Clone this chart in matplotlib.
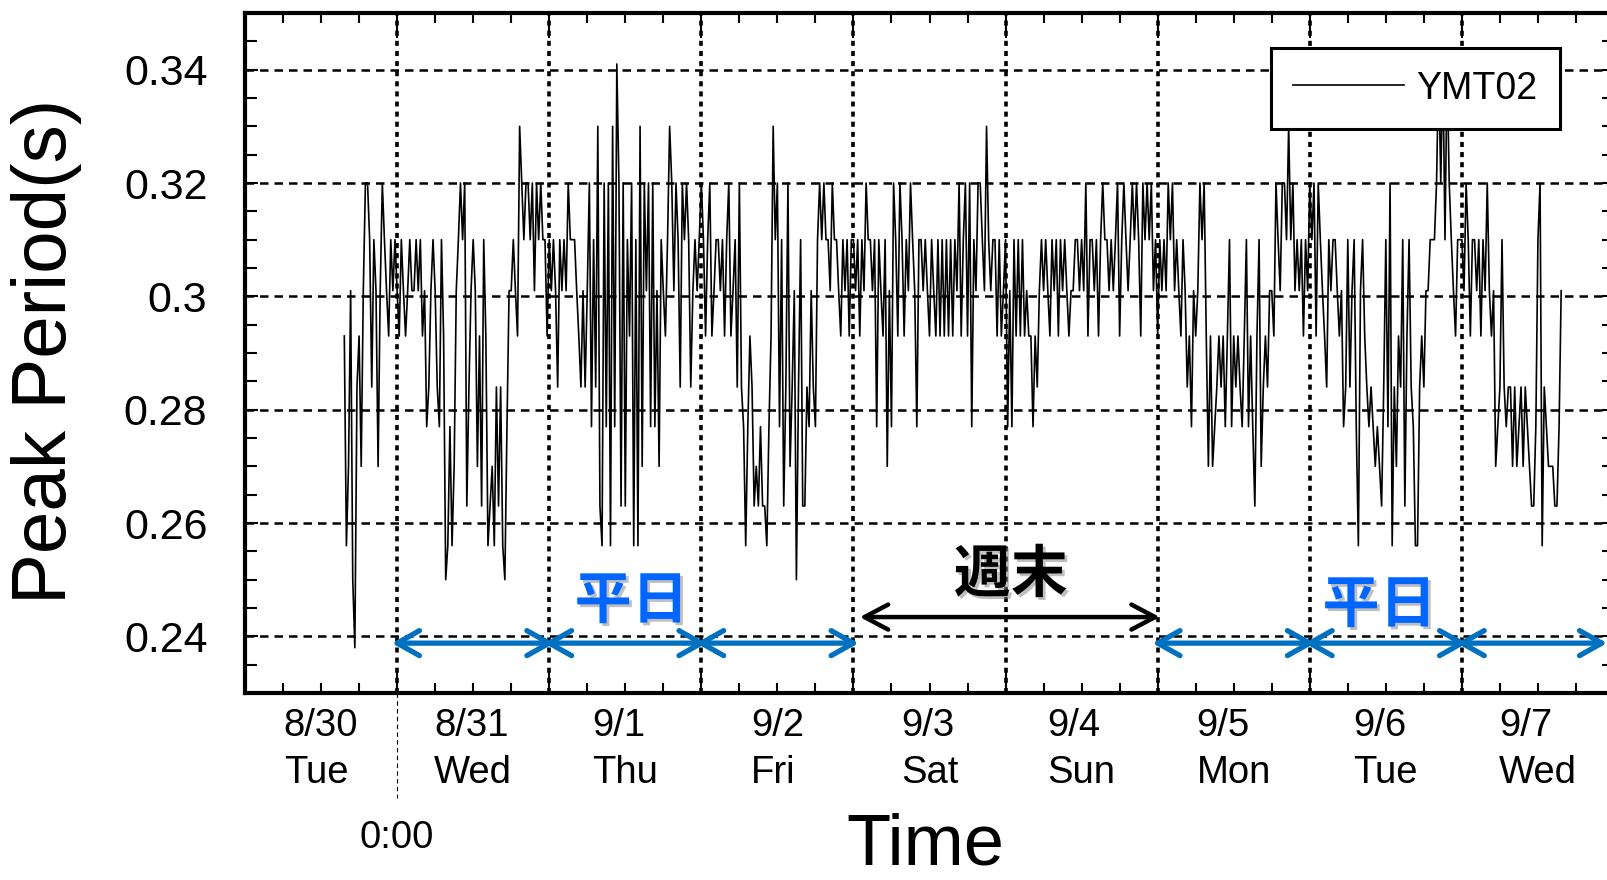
import matplotlib
matplotlib.use("Agg")
import matplotlib.pyplot as plt
import matplotlib.dates as mdates
import matplotlib.patheffects as pe
from matplotlib.ticker import MultipleLocator, FuncFormatter, NullFormatter
import pandas as pd

# ---- fonts ----
plt.rcParams["font.family"] = ["Liberation Sans", "Noto Sans CJK JP"]
plt.rcParams["axes.unicode_minus"] = False

# ---- data: peak period (s), one value every 20 min ----
aug30 = [0.293, 0.256, 0.270, 0.301, 0.250, 0.238, 0.284, 0.293, 0.270, 0.301,
         0.320, 0.320, 0.310, 0.284, 0.310, 0.301, 0.270, 0.301, 0.320, 0.310,
         0.301, 0.293, 0.310, 0.301, 0.310]  # starts 15:40
aug31 = [0.301, 0.293, 0.310, 0.301, 0.293, 0.301,
         0.310, 0.301, 0.301, 0.310, 0.301, 0.310,
         0.293, 0.301, 0.277, 0.284, 0.301, 0.310,
         0.301, 0.284, 0.277, 0.310, 0.293, 0.250,
         0.256, 0.277, 0.256, 0.270, 0.301, 0.310,
         0.320, 0.310, 0.320, 0.263, 0.284, 0.301,
         0.310, 0.301, 0.270, 0.293, 0.263, 0.310,
         0.293, 0.256, 0.263, 0.270, 0.256, 0.284,
         0.263, 0.284, 0.256, 0.250, 0.277, 0.301,
         0.301, 0.310, 0.301, 0.293, 0.330, 0.320,
         0.310, 0.320, 0.320, 0.310, 0.320, 0.301,
         0.320, 0.310, 0.320, 0.310, 0.310, 0.293]
sep1 = [0.310, 0.301, 0.310, 0.301, 0.284, 0.310,
        0.301, 0.310, 0.301, 0.320, 0.310, 0.310,
        0.310, 0.301, 0.293, 0.284, 0.301, 0.284,
        0.301, 0.320, 0.277, 0.310, 0.284, 0.330,
        0.263, 0.256, 0.320, 0.277, 0.320, 0.256,
        0.330, 0.277, 0.341, 0.320, 0.263, 0.320,
        0.263, 0.310, 0.293, 0.320, 0.256, 0.310,
        0.256, 0.330, 0.270, 0.320, 0.301, 0.320,
        0.277, 0.320, 0.277, 0.301, 0.270, 0.310,
        0.301, 0.293, 0.310, 0.330, 0.320, 0.301,
        0.320, 0.310, 0.284, 0.320, 0.310, 0.320,
        0.310, 0.284, 0.301, 0.310, 0.301, 0.310]
sep2 = [0.320, 0.310, 0.293, 0.310, 0.320, 0.293,
        0.301, 0.310, 0.310, 0.301, 0.310, 0.293,
        0.310, 0.320, 0.293, 0.301, 0.310, 0.284,
        0.320, 0.284, 0.277, 0.256, 0.277, 0.293,
        0.284, 0.263, 0.270, 0.263, 0.277, 0.263,
        0.263, 0.256, 0.277, 0.293, 0.330, 0.310,
        0.320, 0.277, 0.310, 0.263, 0.284, 0.320,
        0.270, 0.284, 0.301, 0.250, 0.284, 0.310,
        0.263, 0.263, 0.284, 0.277, 0.301, 0.284,
        0.277, 0.310, 0.320, 0.310, 0.320, 0.310,
        0.310, 0.301, 0.320, 0.310, 0.310, 0.301,
        0.293, 0.310, 0.301, 0.310, 0.293, 0.310]
sep3 = [0.310, 0.301, 0.310, 0.293, 0.310, 0.301,
        0.320, 0.310, 0.310, 0.301, 0.310, 0.277,
        0.310, 0.301, 0.293, 0.310, 0.270, 0.301,
        0.277, 0.320, 0.310, 0.293, 0.320, 0.310,
        0.293, 0.310, 0.301, 0.320, 0.310, 0.301,
        0.277, 0.310, 0.310, 0.301, 0.310, 0.301,
        0.293, 0.310, 0.301, 0.293, 0.310, 0.293,
        0.310, 0.293, 0.310, 0.293, 0.310, 0.293,
        0.310, 0.301, 0.320, 0.293, 0.310, 0.320,
        0.293, 0.320, 0.277, 0.310, 0.301, 0.320,
        0.320, 0.310, 0.301, 0.330, 0.310, 0.301,
        0.310, 0.310, 0.293, 0.310, 0.293, 0.301]
sep4 = [0.310, 0.277, 0.301, 0.277, 0.310, 0.293,
        0.310, 0.293, 0.310, 0.293, 0.301, 0.293,
        0.293, 0.277, 0.293, 0.284, 0.301, 0.310,
        0.301, 0.310, 0.301, 0.293, 0.310, 0.301,
        0.310, 0.293, 0.310, 0.301, 0.310, 0.301,
        0.293, 0.301, 0.301, 0.310, 0.310, 0.301,
        0.310, 0.301, 0.320, 0.293, 0.310, 0.310,
        0.301, 0.310, 0.293, 0.310, 0.320, 0.310,
        0.310, 0.301, 0.310, 0.301, 0.310, 0.320,
        0.293, 0.310, 0.320, 0.310, 0.301, 0.310,
        0.320, 0.310, 0.320, 0.310, 0.293, 0.320,
        0.310, 0.320, 0.310, 0.320, 0.301, 0.310]
sep5 = [0.293, 0.310, 0.301, 0.310, 0.301, 0.320,
        0.310, 0.320, 0.301, 0.310, 0.301, 0.293,
        0.310, 0.301, 0.284, 0.293, 0.277, 0.301,
        0.293, 0.301, 0.320, 0.310, 0.320, 0.293,
        0.270, 0.293, 0.270, 0.277, 0.284, 0.293,
        0.284, 0.293, 0.277, 0.293, 0.310, 0.277,
        0.293, 0.284, 0.293, 0.284, 0.277, 0.293,
        0.310, 0.277, 0.293, 0.277, 0.263, 0.293,
        0.310, 0.270, 0.284, 0.293, 0.284, 0.301,
        0.301, 0.293, 0.320, 0.310, 0.301, 0.320,
        0.320, 0.310, 0.330, 0.310, 0.320, 0.301,
        0.310, 0.301, 0.310, 0.293, 0.310, 0.301]
sep6 = [0.320, 0.310, 0.320, 0.293, 0.320, 0.310,
        0.301, 0.293, 0.284, 0.310, 0.301, 0.310,
        0.310, 0.301, 0.293, 0.301, 0.277, 0.284,
        0.310, 0.284, 0.301, 0.310, 0.277, 0.256,
        0.301, 0.310, 0.293, 0.284, 0.277, 0.284,
        0.277, 0.270, 0.277, 0.270, 0.263, 0.284,
        0.310, 0.277, 0.320, 0.256, 0.284, 0.270,
        0.293, 0.284, 0.310, 0.263, 0.293, 0.310,
        0.284, 0.277, 0.256, 0.256, 0.284, 0.293,
        0.284, 0.301, 0.301, 0.310, 0.310, 0.310,
        0.320, 0.341, 0.320, 0.341, 0.310, 0.341,
        0.320, 0.310, 0.301, 0.293, 0.310, 0.310]
sep7 = [0.310, 0.301, 0.320, 0.310, 0.293, 0.310,
        0.310, 0.301, 0.310, 0.293, 0.310, 0.301,
        0.320, 0.301, 0.293, 0.301, 0.270, 0.277,
        0.284, 0.310, 0.284, 0.277, 0.284, 0.284,
        0.270, 0.284, 0.270, 0.277, 0.284, 0.270,
        0.284, 0.277, 0.270, 0.263, 0.263, 0.277,
        0.310, 0.320, 0.256, 0.284, 0.277, 0.270,
        0.270, 0.270, 0.263, 0.263, 0.277, 0.301]

chunk_starts = ["2016-08-30 15:40", "2016-08-31", "2016-09-01", "2016-09-02",
                "2016-09-03", "2016-09-04", "2016-09-05", "2016-09-06", "2016-09-07"]
chunks = [aug30, aug31, sep1, sep2, sep3, sep4, sep5, sep6, sep7]
series_name = "YMT02"

weekday_spans = [("2016-08-31", "2016-09-01"), ("2016-09-01", "2016-09-02"),
                 ("2016-09-02", "2016-09-03"), ("2016-09-05", "2016-09-06"),
                 ("2016-09-06", "2016-09-07"), ("2016-09-07", "2016-09-08")]
weekend_span = ("2016-09-03", "2016-09-05")

times = []
values = []
for start, vals in zip(chunk_starts, chunks):
    times += list(pd.date_range(start, periods=len(vals), freq="20min"))
    values += vals

# ---- figure ----
fig = plt.figure(figsize=(16.08, 8.8), dpi=100)
ax = fig.add_axes([245 / 1608, 187 / 880, 1369 / 1608, 680 / 880])

ax.plot(times, values, color="black", lw=1.2, label=series_name, zorder=3)

ax.set_xlim(pd.Timestamp("2016-08-30"), pd.Timestamp("2016-09-08"))
ax.set_ylim(0.23, 0.35)

# x axis: day ticks, 6 h minor ticks, labels at noon
ax.xaxis.set_major_locator(mdates.DayLocator())
ax.xaxis.set_minor_locator(mdates.HourLocator(byhour=[6, 12, 18]))
ax.xaxis.set_major_formatter(NullFormatter())


def day_label(x, pos):
    d = mdates.num2date(x)
    if d.hour == 12:
        return f"{d.month}/{d.day}\n{d.strftime('%a')}"
    return ""


ax.xaxis.set_minor_formatter(FuncFormatter(day_label))

ax.yaxis.set_major_locator(MultipleLocator(0.02))
ax.yaxis.set_minor_locator(MultipleLocator(0.005))
ax.yaxis.set_major_formatter(FuncFormatter(lambda v, p: f"{v:g}"))

ax.tick_params(axis="both", which="both", direction="in", top=True, right=True,
               width=1.5, color="black")
ax.tick_params(axis="x", which="major", length=18)
ax.tick_params(axis="x", which="minor", length=7, labelsize=27.5, pad=11)
ax.tick_params(axis="y", which="major", length=9, labelsize=31, pad=27)
ax.tick_params(axis="y", which="minor", length=8.5)
for t in ax.xaxis.get_minor_ticks():
    t.label1.set_multialignment("left")
    t.label1.set_linespacing(1.4)

for sp in ax.spines.values():
    sp.set_linewidth(3)

# grid
ax.set_axisbelow(True)
ax.grid(axis="y", which="major", color="black", lw=1.8, linestyle=(0, (3.4, 2.4)))
ax.grid(axis="x", which="major", color="black", lw=2.6, linestyle=(0, (1.4, 1.4)))

# axis labels
ax.set_ylabel("Peak Period(s)", fontsize=55)
ax.yaxis.set_label_coords(-0.119, 0.503)
ax.set_xlabel("Time", fontsize=52)
ax.xaxis.set_label_coords(0.4967, -0.176)

# 0:00 marker below the axis
mid = pd.Timestamp("2016-08-31")
ax.plot([mid, mid], [0, -0.154], transform=ax.get_xaxis_transform(), clip_on=False,
        color="black", lw=0.8, linestyle=(0, (4, 3)))
ax.text(mid, -0.187, "0:00", transform=ax.get_xaxis_transform(), ha="center", va="top",
        fontsize=27.5)

# legend
leg = ax.legend(loc="upper right", bbox_to_anchor=(0.9606, 0.9485), borderaxespad=0,
                fontsize=27, fancybox=False, framealpha=1, edgecolor="black",
                borderpad=0.6, handlelength=2.96, handletextpad=0.32)
leg.get_frame().set_linewidth(2.2)

# weekday / weekend arrows
blue = "#0070C0"
ext = pd.Timedelta(minutes=50)
for i, (s, e) in enumerate(weekday_spans):
    a = pd.Timestamp(s) - ext
    b = pd.Timestamp(e) + ext if i < len(weekday_spans) - 1 else pd.Timestamp(e) - pd.Timedelta(minutes=65)
    ax.annotate("", xy=(b, 0.2388), xytext=(a, 0.2388), annotation_clip=False,
                arrowprops=dict(arrowstyle="<->,head_length=0.8,head_width=0.45",
                                color=blue, lw=3.8, shrinkA=0, shrinkB=0,
                                mutation_scale=20), zorder=5)
ax.annotate("", xy=(pd.Timestamp(weekend_span[1]) + pd.Timedelta(minutes=20), 0.2434),
            xytext=(pd.Timestamp(weekend_span[0]) + pd.Timedelta(minutes=60), 0.2434),
            arrowprops=dict(arrowstyle="<->,head_length=0.85,head_width=0.45",
                            color="black", lw=3.2, shrinkA=0, shrinkB=0,
                            mutation_scale=20), zorder=5)

shadow = [pe.withSimplePatchShadow(offset=(2, -2), shadow_rgbFace="gray", alpha=0.5)]
ax.text(pd.Timestamp("2016-09-01 13:00"), 0.2462, "平日", color="#0066FF", fontsize=41,
        fontweight="bold", family="Noto Sans CJK JP", ha="center", va="center",
        path_effects=shadow, zorder=6)
ax.text(pd.Timestamp("2016-09-06 11:00"), 0.2455, "平日", color="#0066FF", fontsize=41,
        fontweight="bold", family="Noto Sans CJK JP", ha="center", va="center",
        path_effects=shadow, zorder=6)
ax.text(pd.Timestamp("2016-09-04 00:50"), 0.2508, "週末", color="black", fontsize=41,
        fontweight="bold", family="Noto Sans CJK JP", ha="center", va="center",
        path_effects=shadow, zorder=6)

fig.savefig("out.png", dpi=100)
